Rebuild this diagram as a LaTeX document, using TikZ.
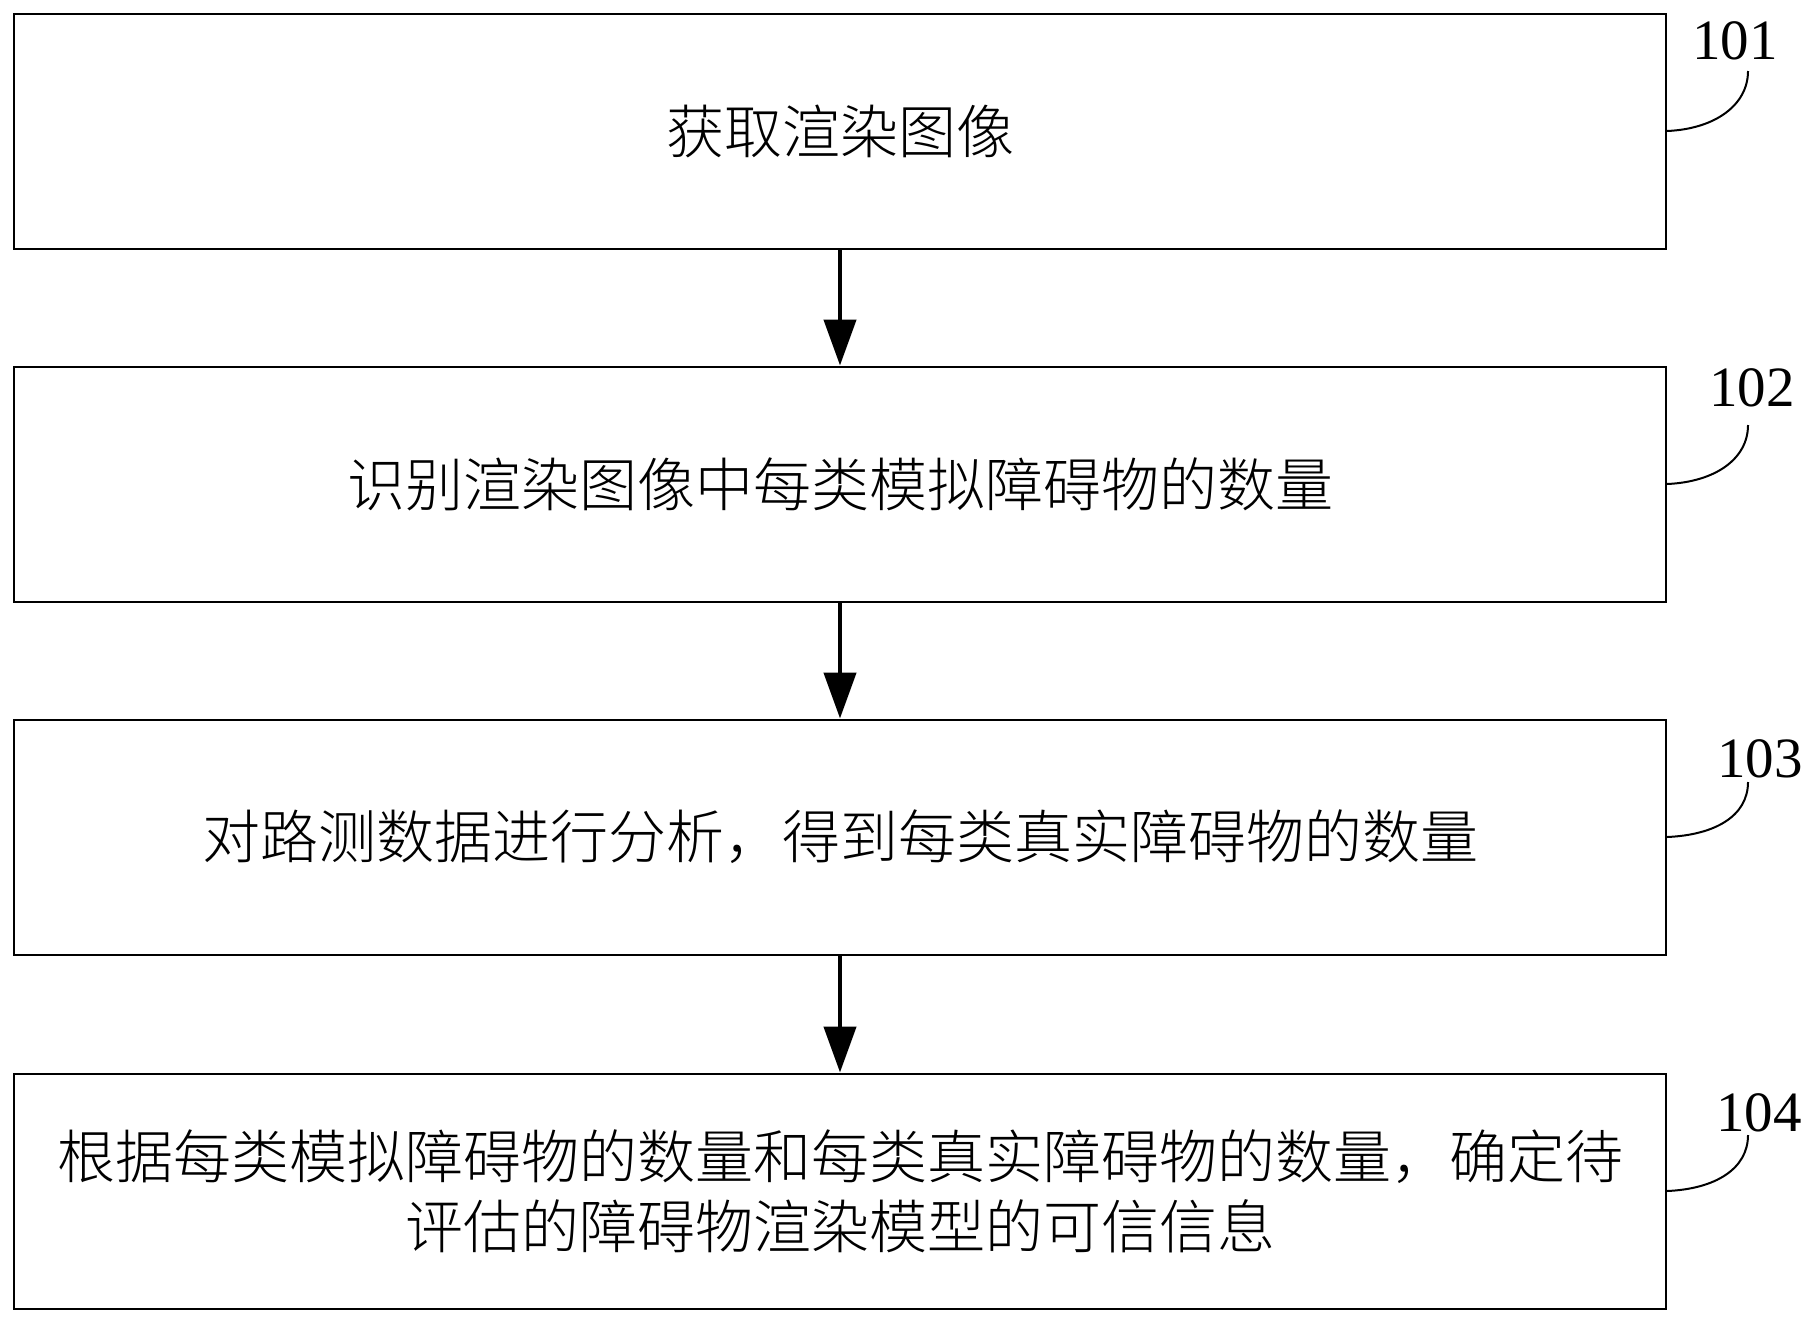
\documentclass[tikz,border=0pt]{standalone}
\usepackage{fontspec}
\usetikzlibrary{arrows.meta}
\newfontfamily\cjk{Noto Sans CJK SC Light}
\newfontfamily\numfont{Liberation Serif}
\begin{document}
\begin{tikzpicture}[x=0.5pt,y=-0.5pt,
  stepbox/.style={draw,line width=1pt,minimum width=826pt,minimum height=117.5pt,
    inner sep=0pt,align=center,font=\cjk\fontsize{29pt}{35pt}\selectfont},
  flow/.style={line width=2.25pt,-{Triangle[width=16pt,length=23pt]}},
  lead/.style={line width=1pt},
  numlbl/.style={font=\numfont\fontsize{28.5pt}{34pt}\selectfont,inner sep=0pt}]
\fill[white] (0,0) rectangle (1813,1323);
\useasboundingbox (0,0) rectangle (1813,1323);
\node[stepbox] (b1) at (840,131) {获取渲染图像};
\node[stepbox] (b2) at (840,484) {识别渲染图像中每类模拟障碍物的数量};
\node[stepbox] (b3) at (840,837) {对路测数据进行分析，得到每类真实障碍物的数量};
\node[stepbox] (b4) at (840,1191) {根据每类模拟障碍物的数量和每类真实障碍物的数量，确定待\\评估的障碍物渲染模型的可信信息};
\draw[flow] (b1.south) -- (b2.north);
\draw[flow] (b2.south) -- (b3.north);
\draw[flow] (b3.south) -- (b4.north);
\node[numlbl] (l1) at (1735,41) {101};
\node[numlbl] (l2) at (1752,388) {102};
\node[numlbl] (l3) at (1760,759) {103};
\node[numlbl] (l4) at (1759,1113) {104};
\coordinate (e1) at (1748,71);
\coordinate (e2) at (1748,425);
\coordinate (e3) at (1748,782);
\coordinate (e4) at (1748,1135);
\draw[lead] (b1.east) .. controls +(48,-2) and +(0,34) .. (e1);
\draw[lead] (b2.east) .. controls +(48,-2) and +(0,34) .. (e2);
\draw[lead] (b3.east) .. controls +(48,-2) and +(0,34) .. (e3);
\draw[lead] (b4.east) .. controls +(48,-2) and +(0,34) .. (e4);
\end{tikzpicture}
\end{document}
